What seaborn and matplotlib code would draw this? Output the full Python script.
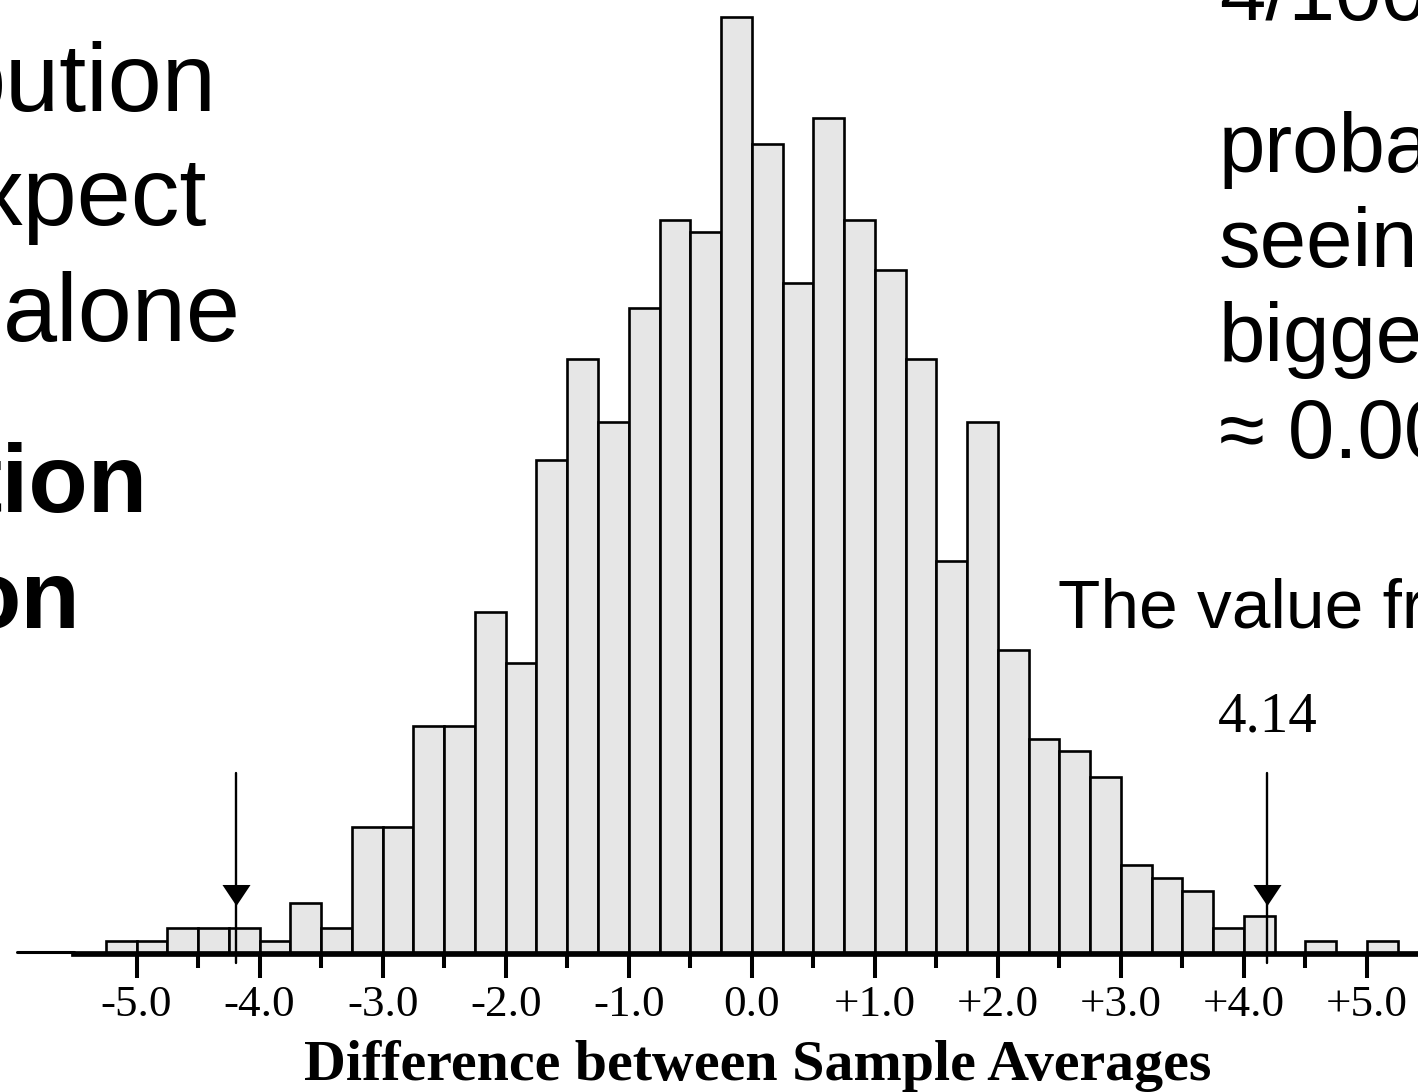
import matplotlib.pyplot as plt
import numpy as np
import pandas as pd
import seaborn as sns
from matplotlib.lines import Line2D


# histogram of 1000 re-randomised differences, bins of 0.25 from -5.25
BIN_START = -5.25
BIN_WIDTH = 0.25
COUNTS = [
    1, 1, 2, 2, 2, 1, 4, 2, 10, 10, 18, 18, 27, 23,
    39, 47, 42, 51, 58, 57, 74, 64, 53, 66, 58, 54, 47, 31, 42,
    24, 17, 16, 14, 7, 6, 5, 2, 3, 0, 1, 0, 1,
]
TICK_VALUES = [-5, -4, -3, -2, -1, 0, 1, 2, 3, 4, 5]
TICK_LABELS = ["-5.0", "-4.0", "-3.0", "-2.0", "-1.0", "0.0",
               "+1.0", "+2.0", "+3.0", "+4.0", "+5.0"]
MINOR_TICKS = [-4.5, -3.5, -2.5, -1.5, -0.5, 0.5, 1.5, 2.5, 3.5, 4.5]
OBSERVED = 4.14
ARROW_X = [-4.19, 4.19]
XLABEL = "Difference between Sample Averages"

LEFT_LINES = ["bution", "xpect", "alone"]
LEFT_BOLD = ["tion", "on"]
RIGHT_LINES = ["4/100", "proba", "seeing", "bigge", "≈ 0.00"]
NOTE = "The value fr"

W, H = 1418, 1092
SERIF = "Liberation Serif"
SANS = ["Liberation Sans", "DejaVu Sans"]
TRIANGLE = [(-1, 0.75), (1, 0.75), (0, -0.75)]


def fxy(x, y):
    return x / W, 1 - y / H


def main() -> None:
    sns.set_theme(style="white")
    plt.rcParams["font.family"] = SANS

    fig = plt.figure(figsize=(W / 100, H / 100), dpi=100)
    ax = fig.add_axes([73.5 / W, (H - 953.8) / H, (W - 73.5) / W, 953.8 / H])
    ax.patch.set_visible(False)

    n_bins = len(COUNTS)
    df = pd.DataFrame({
        "diff": BIN_START + BIN_WIDTH * (np.arange(n_bins) + 0.5),
        "count": COUNTS,
    })
    sns.histplot(data=df, x="diff", weights="count", binwidth=BIN_WIDTH,
                 binrange=(BIN_START, BIN_START + BIN_WIDTH * n_bins),
                 color="#e6e6e6", edgecolor="black", linewidth=1.9, alpha=1, ax=ax)

    ax.set_xlim(-5.513, 5.415)
    ax.set_ylim(0, 75.34)
    for side in ["left", "top", "right"]:
        ax.spines[side].set_visible(False)
    ax.spines["bottom"].set_linewidth(4.1)
    ax.spines["bottom"].set_color("black")
    ax.grid(False)
    ax.set_yticks([])
    ax.set_ylabel("")

    ax.set_xticks(TICK_VALUES)
    ax.set_xticklabels(TICK_LABELS, fontsize=32.5, fontfamily=SERIF, color="black")
    ax.set_xticks(MINOR_TICKS, minor=True)
    ax.tick_params(axis="x", which="major", bottom=True, direction="out",
                   length=17.2, width=2.9, color="black", pad=5)
    ax.tick_params(axis="x", which="minor", bottom=True, direction="out",
                   length=10.2, width=2.9, color="black")

    ax.set_xlabel(XLABEL, fontsize=41.8, fontweight="bold", fontfamily=SERIF, color="black")
    ax.xaxis.set_label_coords(0.5087, -126.0 / 953.8)
    ax.xaxis.label.set_va("baseline")

    # arrows marking the observed difference and its mirror
    for x in ARROW_X:
        ax.plot([x, x], [14.28, -0.73], color="black", lw=1.7, clip_on=False, zorder=4)
        ax.plot([x], [4.68], marker=TRIANGLE, ms=20.2, color="black", mew=0,
                linestyle="none", clip_on=False, zorder=5)
    ax.text(ARROW_X[1], 17.54, f"{OBSERVED:.2f}", ha="center", va="baseline",
            fontsize=41, fontfamily=SERIF, color="black")

    # short baseline stub left of the axis
    fig.add_artist(Line2D([16.5 / W, 73.5 / W], [1 - 951.8 / H] * 2, color="black", lw=2.2))

    # slide text around the chart
    for text, right, base in zip(LEFT_LINES, [217, 207, 241], [111, 225, 340.5]):
        fig.text(*fxy(right, base), text, ha="right", va="baseline", fontsize=70, color="black")
    for text, right, base in zip(LEFT_BOLD, [148, 80], [512, 628]):
        fig.text(*fxy(right, base), text, ha="right", va="baseline", fontsize=70,
                 fontweight="bold", color="black")
    for text, base in zip(RIGHT_LINES, [20, 172, 267, 362, 458]):
        fig.text(*fxy(1219, base), text, ha="left", va="baseline", fontsize=60, color="black")
    fig.text(*fxy(1058, 627), NOTE, ha="left", va="baseline", fontsize=50, color="black")

    fig.savefig("out.png", dpi=100, facecolor="white")
    plt.close(fig)


if __name__ == "__main__":
    main()
